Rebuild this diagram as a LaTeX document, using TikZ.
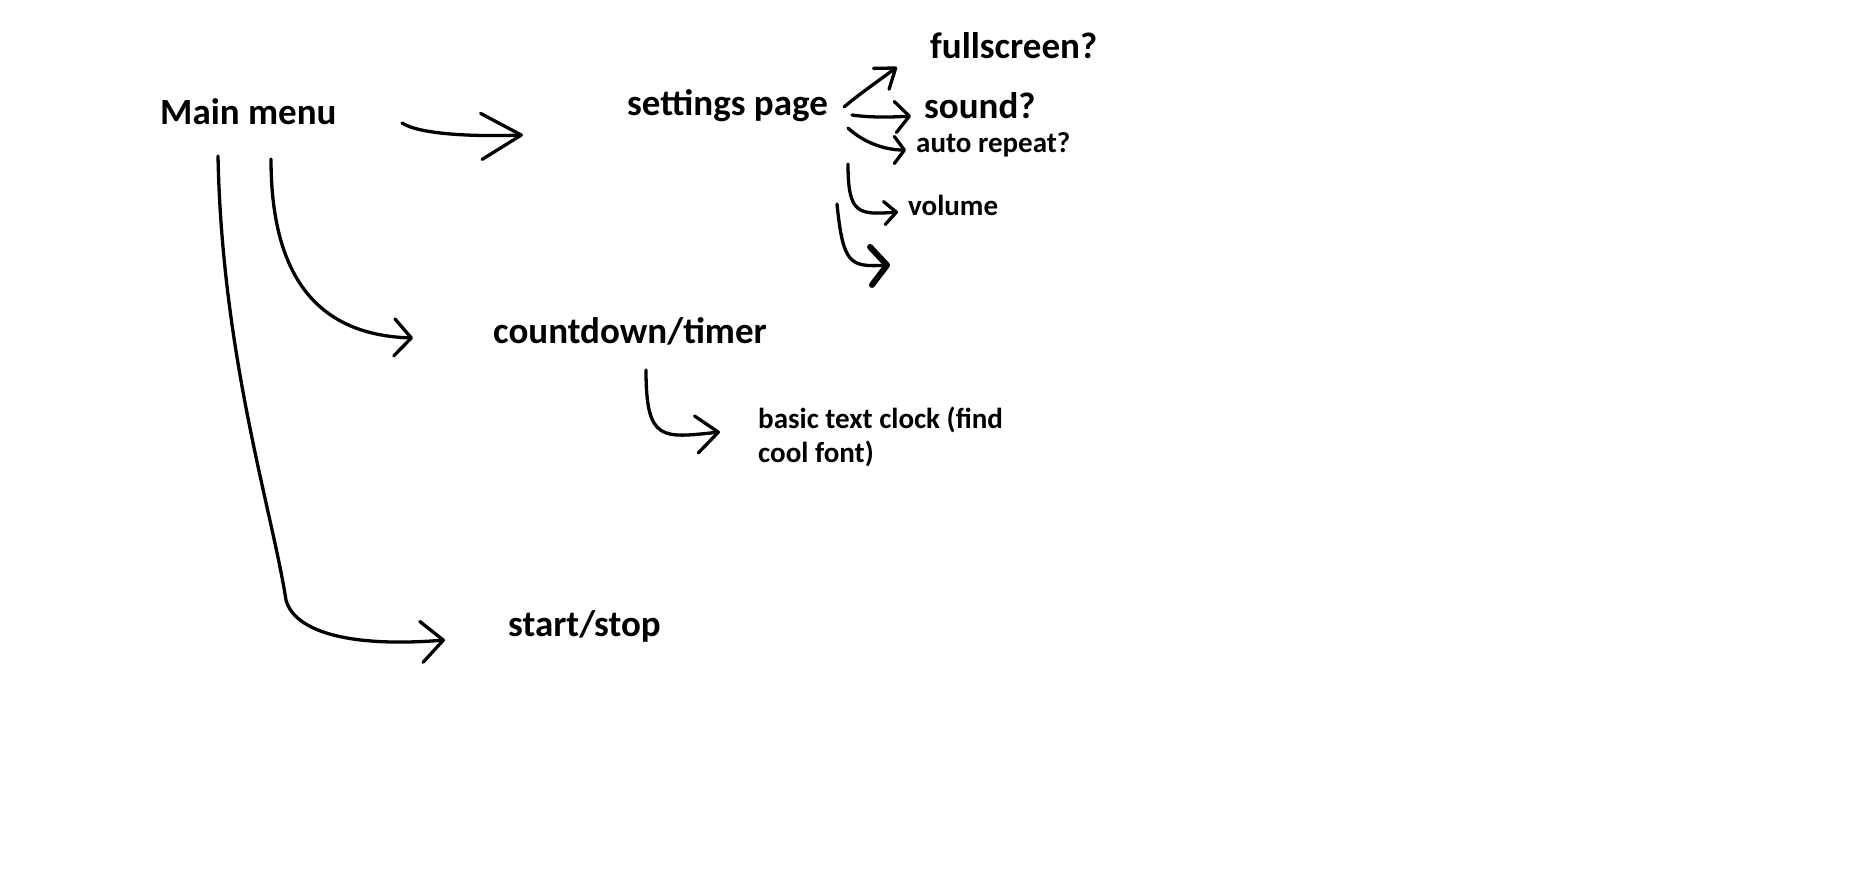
\documentclass[tikz,border=0pt]{standalone}
\usepackage{fontspec}
\setmainfont{Carlito}
\usepackage{tikz}
\usetikzlibrary{arrows.meta,calc,positioning}

\begin{document}
\begin{tikzpicture}[x=1pt,y=-1pt]
    \tikzstyle{bigtext}=[anchor=base west, inner sep=0pt, font=\bfseries\fontsize{37}{44}\selectfont]
    \tikzstyle{smalltext}=[anchor=base west, inner sep=0pt, font=\bfseries\fontsize{29}{34}\selectfont]
    \tikzstyle{link}=[draw, line width=3.3pt, line cap=round, line join=round]

    \fill[white] (0,0) rectangle (1871,868);
    \useasboundingbox (0,0) rectangle (1871,868);

    \node[bigtext]   (main)       at (160,124) {Main menu};
    \node[bigtext]   (settings)   at (627,115) {settings page};
    \node[bigtext]   (fullscreen) at (930,58)  {fullscreen?};
    \node[bigtext]   (sound)      at (924,118) {sound?};
    \node[smalltext] (repeat)     at (916,152) {auto repeat?};
    \node[smalltext] (volume)     at (908,215) {volume};
    \node[bigtext]   (countdown)  at (493,343) {countdown/timer};
    \node[smalltext, align=left] (clock) at (758,462) {basic text clock (find\\cool font)};
    \node[bigtext]   (startstop)  at (508,636) {start/stop};
    \coordinate      (blank)      at (890,265);

    \draw[link, -{Straight Barb[round,length=40pt,width=46pt]}]
        ([shift={(242,-1)}]main.base west) .. controls +(15,10) and +(-60,2) .. ([shift={(-104,20)}]settings.base west);
    \draw[link, -{Straight Barb[round,length=17pt,width=37pt]}]
        ([shift={(111,35)}]main.base west) .. controls +(0,121) and +(-93,-3) .. ([shift={(-80,-5)}]countdown.base west);
    \draw[link, -{Straight Barb[round,length=22pt,width=41pt]}]
        ([shift={(58,32)}]main.base west) .. controls +(4,200) and +(-14,-90) .. ++(68,444)
        .. controls +(8,30) and +(-100,8) .. ([shift={(-63,4)}]startstop.base west);
    \draw[link, -{Straight Barb[round,length=22pt,width=37pt]}]
        ([shift={(153,27)}]countdown.base west) .. controls +(0,72) and +(-58,6) .. ([shift={(-38,-30)}]clock.base west);

    \draw[link, -{Straight Barb[round,length=18pt,width=26pt]}]
        ([shift={(217,-8)}]settings.base west) .. controls +(14,-12) and +(-16,12) .. ([shift={(-33,9)}]fullscreen.base west);
    \draw[link, -{Straight Barb[round,length=14pt,width=31pt]}]
        ([shift={(225,0)}]settings.base west) .. controls +(20,3) and +(-15,1) .. ([shift={(-13,-2)}]sound.base west);
    \draw[link, -{Straight Barb[round,length=10pt,width=27pt]}]
        ([shift={(221,13)}]settings.base west) .. controls +(15,14) and +(-22,0) .. ([shift={(-10,-2)}]repeat.base west);
    \draw[link, -{Straight Barb[round,length=12pt,width=23pt]}]
        ([shift={(221,49)}]settings.base west) .. controls +(0,50) and +(-40,3) .. ([shift={(-10,-3)}]volume.base west);
    \draw[link, -{Straight Barb[round,length=16pt,width=38pt,line width=6pt]}]
        ([shift={(210,89)}]settings.base west) .. controls +(6,60) and +(-40,2) .. (blank);
\end{tikzpicture}
\end{document}
